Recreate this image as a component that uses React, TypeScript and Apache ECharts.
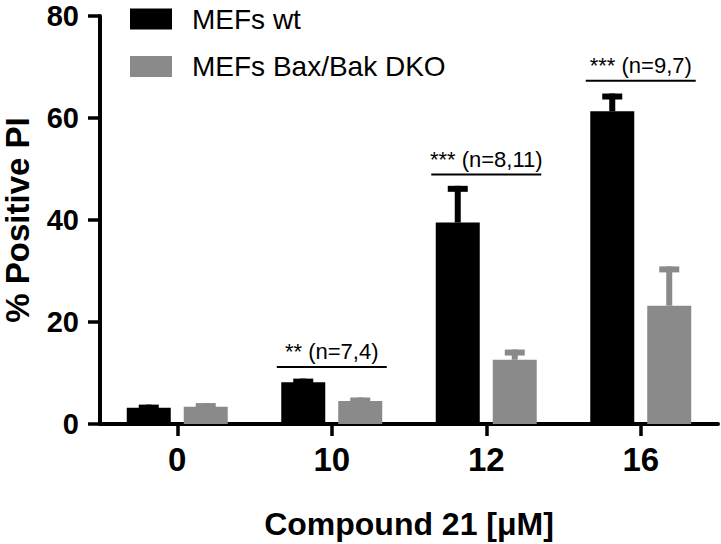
import React, { useEffect, useRef } from 'react';
import * as echarts from 'echarts';

const categories = ['0', '10', '12', '16'];
const seriesNames = ['MEFs wt', 'MEFs Bax/Bak DKO'];
const wtMean = [3.2, 8.2, 39.5, 61.3];
const wtErrTop = [3.8, 8.9, 46.7, 64.8];
const dkoMean = [3.4, 4.5, 12.6, 23.2];
const dkoErrTop = [4.1, 5.2, 14.6, 30.9];
const sigIndex = [1, 2, 3];
const sigLevel = [11.2, 48.9, 67.3];
const sigLabels = ['** (n=7,4)', '*** (n=8,11)', '*** (n=9,7)'];
const yMin = 0;
const yMax = 80;
const yInterval = 20;

const FONT = '"Liberation Sans", Arial, Helvetica, sans-serif';
const BLACK = '#000000';
const GRAY = '#8a8a8a';
const BAR_W = 44;
const OFFSET = 28.5;

function errorSeries(means: number[], tops: number[], color: string, offset: number) {
  return {
    type: 'custom',
    silent: true,
    z: 5,
    data: categories.map((_, i) => [i, means[i], tops[i]]),
    renderItem: (params: any, api: any) => {
      const base = api.coord([api.value(0), api.value(1)]);
      const top = api.coord([api.value(0), api.value(2)]);
      const x = base[0] + offset;
      return {
        type: 'group',
        children: [
          { type: 'rect', shape: { x: x - 3, y: top[1], width: 6, height: base[1] - top[1] }, style: { fill: color } },
          { type: 'rect', shape: { x: x - 10, y: top[1], width: 20, height: 6 }, style: { fill: color } },
        ],
      };
    },
  };
}

export default function App() {
  const ref = useRef<HTMLDivElement>(null);
  useEffect(() => {
    if (!ref.current) return;
    const chart = echarts.init(ref.current, null, { renderer: 'svg' });
    chart.setOption({
      animation: false,
      backgroundColor: '#ffffff',
      grid: { left: 100, right: 3, top: 16, bottom: 120, containLabel: false, outerBoundsMode: 'none' },
      legend: {
        data: seriesNames,
        orient: 'vertical',
        left: 130,
        top: 5,
        padding: 0,
        itemWidth: 42,
        itemHeight: 21,
        itemGap: 19.5,
        icon: 'rect',
        selectedMode: false,
        textStyle: { fontFamily: FONT, fontSize: 28, lineHeight: 28, color: '#000', padding: [0, 0, 0, 15] },
      },
      xAxis: {
        type: 'category',
        data: categories,
        name: 'Compound 21 [\u03bcM]',
        nameLocation: 'middle',
        nameGap: 84,
        nameTextStyle: { fontFamily: FONT, fontSize: 32, fontWeight: 'bold', color: '#000' },
        axisLine: { show: true, lineStyle: { color: '#000', width: 4 } },
        axisTick: { show: true, alignWithLabel: true, length: 12, lineStyle: { color: '#000', width: 3.5 } },
        axisLabel: { fontFamily: FONT, fontSize: 33, fontWeight: 'bold', color: '#000', margin: 19 },
        splitLine: { show: false },
      },
      yAxis: {
        type: 'value',
        min: yMin,
        max: yMax,
        interval: yInterval,
        name: '% Positive PI',
        nameLocation: 'middle',
        nameGap: 66,
        nameRotate: 90,
        nameTextStyle: { fontFamily: FONT, fontSize: 33, fontWeight: 'bold', color: '#000' },
        axisLine: { show: true, lineStyle: { color: '#000', width: 4 } },
        axisTick: { show: true, length: 12, lineStyle: { color: '#000', width: 3.5 } },
        axisLabel: { fontFamily: FONT, fontSize: 29, fontWeight: 'bold', color: '#000', margin: 21 },
        splitLine: { show: false },
      },
      series: [
        {
          name: seriesNames[0],
          type: 'bar',
          data: wtMean,
          barWidth: BAR_W,
          barGap: '29.5%',
          itemStyle: { color: BLACK },
          silent: true,
        },
        {
          name: seriesNames[1],
          type: 'bar',
          data: dkoMean,
          barWidth: BAR_W,
          itemStyle: { color: GRAY },
          silent: true,
        },
        errorSeries(wtMean, wtErrTop, BLACK, -OFFSET),
        errorSeries(dkoMean, dkoErrTop, GRAY, OFFSET),
        {
          type: 'custom',
          silent: true,
          z: 6,
          data: sigIndex.map((c, i) => [c, sigLevel[i]]),
          renderItem: (params: any, api: any) => {
            const p = api.coord([api.value(0), api.value(1)]);
            return {
              type: 'group',
              children: [
                { type: 'line', shape: { x1: p[0] - 55, y1: p[1], x2: p[0] + 55, y2: p[1] }, style: { stroke: '#000', lineWidth: 2 } },
                {
                  type: 'text',
                  style: {
                    x: p[0],
                    y: p[1] - 4,
                    text: sigLabels[params.dataIndex],
                    align: 'center',
                    verticalAlign: 'bottom',
                    font: `22px ${FONT}`,
                    fill: '#000',
                  },
                },
              ],
            };
          },
        },
      ],
    });
    return () => chart.dispose();
  }, []);
  return <div ref={ref} style={{ width: 721, height: 544, position: 'absolute', left: 0, top: 0 }} />;
}
